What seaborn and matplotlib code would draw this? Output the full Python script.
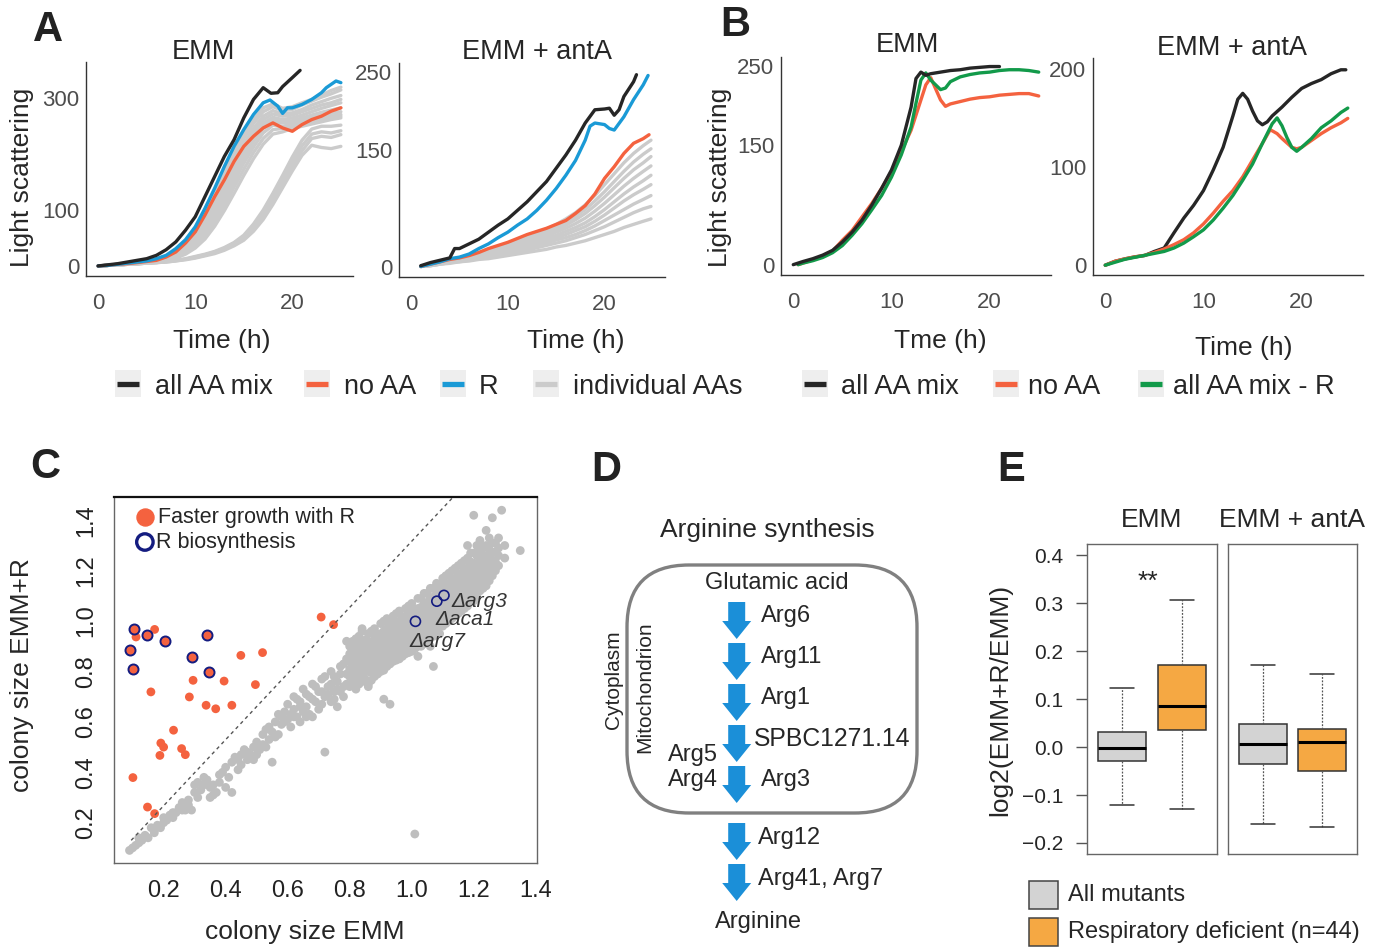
import numpy as np
import pandas as pd
import matplotlib
matplotlib.use('Agg')
import matplotlib.pyplot as plt
import seaborn as sns
from matplotlib.patches import FancyBboxPatch, FancyArrow, Rectangle

sns.set_style('white')
plt.rcParams['font.family'] = ['Liberation Sans', 'DejaVu Sans']
plt.rcParams['axes.unicode_minus'] = True

# ---------------- DATA ----------------
# Panel A, EMM
a1_black_t = [0,1,2,3,4,5,6,7,8,9,10,11,12,13,14,15,16,17,17.8,18.5,19,20,20.8]
a1_black_v = [0,2,4,7,10,13,19,29,43,64,88,124,160,196,226,265,298,319,309,310,321,337,350]
a1_blue_t = [0,1,2,3,4,5,6,7,8,9,10,11,12,13,14,15,16,17,17.7,18.5,19,19.5,20,21,22,23,23.5,24,24.5,25]
a1_blue_v = [0,1,3,5,7,9,13,19,31,47,70,103,139,178,214,244,271,292,297,286,273,283,283,289,298,310,319,325,331,328]
a1_red_t = list(range(0, 26))
a1_red_v = [0,1,3,4,6,8,10,16,25,41,61,91,124,154,187,214,232,247,256,247,241,253,262,268,277,283]
a1_gray_t = list(range(0, 26))
a1_gray = [
    [0,1,2,4,6,8,12,17,27,42,63,95,130,168,203,235,262,283,290,282,285,292,298,306,314,320],
    [0,1,2,4,6,8,11,16,25,39,58,88,122,160,196,228,255,276,285,278,280,288,295,302,308,315],
    [0,1,2,3,5,7,10,14,22,35,53,80,113,150,186,218,246,268,278,272,274,280,288,294,300,305],
    [0,1,2,3,5,7,10,14,21,33,50,76,108,144,180,212,240,262,272,268,270,276,282,288,292,298],
    [0,1,2,3,5,7,9,13,20,31,47,72,103,138,174,206,234,256,266,262,265,270,276,282,287,292],
    [0,1,2,3,4,6,9,13,19,29,44,68,98,132,168,200,228,250,262,258,260,265,270,275,279,283],
    [0,1,2,3,4,6,8,12,18,27,41,63,92,125,160,193,222,246,258,256,258,262,266,270,273,276],
    [0,1,2,3,4,6,8,11,16,25,38,58,85,117,151,184,213,238,252,250,254,258,262,265,268,271],
    [0,1,2,3,4,5,7,10,15,23,35,53,78,108,141,173,203,228,244,246,250,254,258,262,265,268],
    [0,1,2,3,4,5,7,10,14,21,32,48,71,99,130,162,192,218,236,240,246,250,254,258,262,265],
    [0,1,2,3,4,5,6,8,10,13,17,21,26,33,42,55,75,100,130,162,195,225,245,250,250,252],
    [0,1,2,3,4,5,6,8,10,12,16,20,25,31,40,52,70,94,123,155,187,215,236,240,238,242],
    [0,1,2,3,4,5,6,7,9,12,15,19,24,30,38,49,66,88,116,147,178,206,228,232,230,235],
    [0,1,2,3,4,5,6,7,9,11,14,18,22,28,36,46,62,83,110,140,170,198,216,212,210,214],
]
# Panel A, EMM + antA
a2_black_t = [1,2,3,4,4.5,5,6,7,8,9,10,11,12,13,14,15,16,17,18,19,20,20.5,21,21.5,22,23,23.3]
a2_black_v = [2,6,9,12,24,24,30,36,45,54,62,73,84,97,110,127,144,163,185,202,203,204,195,202,219,238,247]
a2_blue_t = [1,2,3,4,5,6,7,8,9,10,11,12,13,14,15,16,17,18,18.5,19,19.5,20,20.5,21,22,23,24,24.5]
a2_blue_v = [1,4,7,11,13,17,24,30,38,45,54,62,73,86,101,118,137,163,181,185,184,183,178,176,193,215,234,246]
a2_red_t = [1,2,3,4,5,6,7,8,9,10,11,12,13,14,15,16,17,18,19,20,21,22,23,24,24.6]
a2_red_v = [1,4,7,10,12,15,19,24,28,32,37,42,46,50,55,60,69,79,94,114,129,146,159,165,170]
a2_gray_t = [1,2,3,4,5,6,7,8,9,10,11,12,13,14,15,16,17,18,19,20,21,22,23,24,24.8]
a2_gray = [
    [1,3,6,9,11,14,17,21,25,29,34,39,44,49,55,62,70,80,92,106,120,134,146,156,163],
    [1,3,6,9,11,13,16,20,24,28,32,36,41,46,52,58,65,74,85,97,110,123,135,145,152],
    [1,3,5,8,10,12,15,18,22,26,30,34,38,43,48,54,61,69,79,90,102,114,125,134,142],
    [1,3,5,8,10,12,14,17,21,24,28,32,36,40,45,50,56,63,72,82,93,104,114,123,130],
    [1,3,5,7,9,11,13,16,19,22,26,29,33,37,41,46,51,57,65,74,84,94,103,111,118],
    [1,3,5,7,9,11,13,15,18,21,24,27,31,34,38,42,47,52,59,67,76,85,93,100,106],
    [1,2,4,6,8,10,12,14,17,19,22,25,28,31,35,38,42,47,53,60,67,74,81,87,92],
    [1,2,4,6,7,9,11,13,15,17,20,22,25,28,31,34,38,42,47,52,58,64,70,75,78],
    [1,2,4,5,7,8,10,11,13,15,17,19,21,23,26,28,31,34,38,42,46,51,55,59,62],
]
# Panel B, EMM
b1_black_t = [0,1,2,3,4,5,6,7,8,9,10,11,12,12.5,13,13.5,14,15,16,17,18,19,20,21]
b1_black_v = [0,4,7.5,12,18,28.5,41,56,75,96,119,150,198,234,242,238,240,242,244,245,247,248,249,249]
b1_red_t = [0.5,1,2,3,4,5,6,7,8,9,10,11,12,13,13.5,14,14.5,15,15.5,16,17,18,19,20,21,22,23,24,25]
b1_red_v = [0,2,6,11,17,30.6,43,60,77,96,117,142,169,207,226,235,221,207,199,202,205,208,210,211,213,214,215,215,212]
b1_green_t = [0.5,1,2,3,4,5,6,7,8,9,10,11,12,12.5,13,13.5,14,15,15.5,16,17,18,19,20,21,22,23,24,25]
b1_green_v = [0,2,5,9,15,24,37,51.6,69,87,110,138,173,203,232,241,232,220,222,230,236,239,241,242,244,245,245,244,242]
# Panel B, EMM + antA
b2_black_t = [0,1,2,3,4,5,6,7,8,9,10,11,12,13,13.5,14,14.5,15,15.5,16,16.5,17,18,19,20,21,22,23,24,24.5]
b2_black_v = [0,4,6.4,8.4,9.8,14,17.5,33,48,61,76,97,120,152,169,175,169,157,147,143,146,152,161,171,180,185,189,195,199,199]
b2_red_t = [0,1,2,3,4,5,6,7,8,9,10,11,12,13,14,15,16,16.8,17.5,18,19,19.5,20,21,22,23,24,24.7]
b2_red_v = [0,4,6.5,8.5,10,13,16.5,21,26,33,42,53,65,76,90,107,124,138,134,129,120,118.5,120,127,134,140,145,149.5]
b2_green_t = [0,1,2,3,4,5,6,7,8,9,10,11,12,13,14,15,16,17,17.5,18,18.5,19,19.5,20,21,22,23,24,24.7]
b2_green_v = [0,3,6,8,10,12,14,17.5,22.5,29,36,46,58,71,86.5,103,124,144,150,142,130,120,116,120,129,140,147,155.5,160]

# Panel C
gray_pairs = [
    (0.09,0.09),(0.10,0.10),(0.11,0.11),(0.12,0.14),(0.13,0.13),(0.14,0.15),(0.15,0.14),(0.16,0.18),
    (0.17,0.17),(0.18,0.19),(0.19,0.18),(0.20,0.20),(0.20,0.22),(0.21,0.21),(0.22,0.23),(0.23,0.24),
    (0.24,0.24),(0.25,0.26),(0.26,0.28),(0.27,0.25),(0.28,0.29),(0.28,0.27),(0.29,0.25),(0.30,0.32),
    (0.30,0.35),(0.31,0.36),(0.32,0.33),(0.33,0.38),(0.34,0.37),(0.35,0.30),(0.35,0.34),(0.36,0.31),
    (0.37,0.32),(0.38,0.36),(0.38,0.39),(0.39,0.40),(0.40,0.34),(0.40,0.42),(0.41,0.38),(0.42,0.44),
    (0.42,0.32),(0.43,0.46),(0.44,0.45),(0.45,0.47),(0.45,0.43),(0.46,0.49),(0.47,0.48),(0.48,0.47),
    (0.49,0.50),(0.49,0.45),(0.50,0.52),(0.51,0.49),(0.52,0.55),(0.53,0.57),(0.53,0.50),(0.54,0.58),
    (0.55,0.44),(0.55,0.56),(0.56,0.60),(0.57,0.55),(0.57,0.63),(0.58,0.59),(0.59,0.64),(0.60,0.61),
    (0.60,0.67),(0.61,0.58),(0.62,0.65),(0.62,0.70),(0.63,0.62),(0.64,0.68),(0.65,0.64),(0.65,0.73),
    (0.66,0.66),(0.67,0.70),(0.68,0.62),(0.68,0.75),(0.69,0.68),(0.70,0.72),(0.70,0.65),(0.71,0.77),
    (0.72,0.48),(0.72,0.70),(0.73,0.74),(0.74,0.68),(0.74,0.80),(0.75,0.72),(0.76,0.76),(0.76,0.66),
    (0.77,0.82),(0.78,0.74),(0.78,0.70),(0.79,0.79),(1.01,0.155),(0.91,0.69),(0.93,0.67),(1.07,0.82),
    (1.35,1.28),(1.29,1.44),(1.26,1.41),(1.20,1.42),(0.86,0.74),(0.79,0.92),(0.84,0.97),
    (0.61,0.63),(0.63,0.69),(0.64,0.60),(0.66,0.71),(0.67,0.63),(0.69,0.74),(0.71,0.67),(0.72,0.78),
    (0.73,0.71),(0.75,0.78),(0.75,0.69),(0.77,0.72),(0.77,0.79),(0.79,0.75),(0.79,0.85),(0.78,0.83),
    (0.76,0.73),(0.74,0.75),(0.71,0.72),(0.68,0.69),(0.66,0.62),(0.64,0.66),(0.62,0.62),(0.59,0.60),
    (0.58,0.62),(0.56,0.54),(0.54,0.53),(0.52,0.51),(0.50,0.47),(0.47,0.45),(0.44,0.41),(0.36,0.35),
    (0.33,0.35),(0.31,0.30),(0.26,0.25),(0.23,0.22),(0.17,0.16),(0.12,0.12),
]
gray_rows = [
    (0.80,[0.74,0.78,0.81,0.84,0.87,0.90]),
    (0.81,[0.76,0.79,0.82,0.85,0.88,0.92]),
    (0.82,[0.73,0.77,0.80,0.83,0.86,0.89,0.93]),
    (0.83,[0.75,0.78,0.81,0.845,0.875,0.905,0.94]),
    (0.84,[0.76,0.79,0.82,0.85,0.88,0.91,0.96]),
    (0.85,[0.77,0.805,0.835,0.865,0.895,0.925]),
    (0.86,[0.75,0.80,0.83,0.86,0.89,0.92,0.95]),
    (0.87,[0.765,0.795,0.825,0.855,0.885,0.915,0.96]),
    (0.88,[0.78,0.81,0.84,0.87,0.90,0.93,0.97]),
    (0.89,[0.79,0.825,0.855,0.885,0.915,0.945]),
    (0.90,[0.80,0.83,0.86,0.89,0.92,0.95,0.99]),
    (0.91,[0.805,0.835,0.865,0.895,0.925,0.96,1.00]),
    (0.92,[0.82,0.85,0.88,0.91,0.94,0.97,1.01]),
    (0.93,[0.83,0.865,0.895,0.925,0.955,0.985]),
    (0.94,[0.84,0.87,0.90,0.93,0.96,0.99,1.02]),
    (0.95,[0.845,0.875,0.905,0.935,0.965,0.995,1.03]),
    (0.96,[0.85,0.88,0.91,0.94,0.97,1.00,1.04]),
    (0.97,[0.86,0.895,0.925,0.955,0.985,1.015]),
    (0.98,[0.87,0.90,0.93,0.96,0.99,1.02,1.05]),
    (0.99,[0.875,0.905,0.935,0.965,0.995,1.025,1.06]),
    (1.00,[0.88,0.91,0.94,0.97,1.00,1.03,1.07]),
    (1.01,[0.89,0.925,0.955,0.985,1.015,1.045]),
    (1.02,[0.86,0.90,0.93,0.96,0.99,1.02,1.05,1.09]),
    (1.03,[0.90,0.935,0.965,0.995,1.025,1.055,1.09]),
    (1.04,[0.91,0.95,0.98,1.01,1.04,1.07,1.11]),
    (1.05,[0.92,0.955,0.985,1.015,1.045,1.075,1.11]),
    (1.06,[0.90,0.94,0.97,1.00,1.03,1.06,1.09,1.13]),
    (1.07,[0.94,0.975,1.005,1.035,1.065,1.095,1.13]),
    (1.08,[0.96,0.99,1.02,1.05,1.08,1.11,1.15]),
    (1.09,[0.95,0.985,1.015,1.045,1.075,1.105,1.14]),
    (1.10,[0.98,1.01,1.04,1.07,1.10,1.13,1.17]),
    (1.11,[0.99,1.025,1.055,1.085,1.115,1.145,1.18]),
    (1.12,[1.00,1.03,1.06,1.09,1.12,1.15,1.19]),
    (1.13,[1.01,1.045,1.075,1.105,1.135,1.165,1.20]),
    (1.14,[1.02,1.05,1.08,1.11,1.14,1.17,1.21]),
    (1.15,[1.03,1.065,1.095,1.125,1.155,1.185,1.22]),
    (1.16,[1.04,1.07,1.10,1.13,1.16,1.19,1.23]),
    (1.17,[1.05,1.085,1.115,1.145,1.175,1.205,1.24]),
    (1.18,[1.06,1.09,1.12,1.15,1.18,1.21,1.25,1.30]),
    (1.19,[1.08,1.115,1.145,1.175,1.205,1.235,1.27]),
    (1.20,[1.08,1.11,1.14,1.17,1.20,1.23,1.27]),
    (1.21,[1.10,1.135,1.165,1.195,1.225,1.26,1.30]),
    (1.22,[1.12,1.15,1.18,1.21,1.24,1.28,1.32]),
    (1.23,[1.13,1.165,1.195,1.225,1.255,1.29]),
    (1.24,[1.14,1.17,1.20,1.23,1.26,1.30,1.36]),
    (1.25,[1.16,1.195,1.225,1.255,1.285,1.33]),
    (1.26,[1.18,1.21,1.24,1.27,1.31]),
    (1.27,[1.20,1.235,1.275,1.31]),
    (1.28,[1.22,1.26,1.29,1.33]),
    (1.30,[1.25,1.30]),
]
red_x = [0.111,0.171,0.159,0.101,0.148,0.171,0.188,0.191,0.200,0.232,0.258,0.270,0.283,0.295,
         0.337,0.368,0.395,0.420,0.449,0.496,0.519,0.708,0.748]
red_y = [0.937,0.967,0.719,0.379,0.262,0.236,0.467,0.516,0.500,0.567,0.494,0.470,0.699,0.765,
         0.666,0.652,0.762,0.666,0.864,0.748,0.875,1.016,0.986]
rbio_red_x = [0.104,0.092,0.101,0.146,0.203,0.290,0.341,0.345]
rbio_red_y = [0.967,0.884,0.809,0.944,0.920,0.858,0.946,0.798]
rbio_open_x = [1.012,1.081,1.104]
rbio_open_y = [0.999,1.079,1.102]
gene_labels = ['Δarg3', 'Δaca1', 'Δarg7']
gene_label_x = [1.127, 1.078, 0.994]
gene_label_y = [1.076, 1.006, 0.920]
diag_x = [0.0955, 1.132]
diag_y = [0.13, 1.49]

# Panel D
inner_steps = ['Arg6', 'Arg11', 'Arg1', 'SPBC1271.14', 'Arg3']
outer_steps = ['Arg12', 'Arg41, Arg7']
side_steps = ['Arg5', 'Arg4']

# Panel E
e_panels = ['EMM', 'EMM + antA']
e_groups = ['All mutants', 'Respiratory deficient (n=44)']
e_whislo = [[-0.1215, -0.129], [-0.1604, -0.1674]]
e_q1 = [[-0.0297, 0.0364], [-0.035, -0.0505]]
e_med = [[-0.002, 0.085], [0.0072, 0.0113]]
e_q3 = [[0.0315, 0.172], [0.048, 0.037]]
e_whishi = [[0.123, 0.3075], [0.172, 0.1525]]

# ---------------- STYLE ----------------
C_BLACK = '#262626'; C_RED = '#F4623F'; C_BLUE = '#1A9AD6'; C_GREEN = '#129A4A'
C_GRAY = '#CBCBCB'; C_ARROW = '#1B8FD8'; C_NAVY = '#141C80'
C_EGRAY = '#D3D3D3'; C_EORANGE = '#F5A843'

W, H = 1380, 948
fig = plt.figure(figsize=(W/100, H/100), dpi=100)

def add_ax(l, t, r, b):
    return fig.add_axes([l/W, 1-b/H, (r-l)/W, (b-t)/H])

def style_growth(ax, ylim, yticks):
    ax.set_xlim(-1.25, 26.25)
    ax.set_ylim(*ylim)
    ax.set_xticks([0, 10, 20])
    ax.set_yticks(yticks)
    for s in ['top', 'right']:
        ax.spines[s].set_visible(False)
    for s in ['left', 'bottom']:
        ax.spines[s].set_color('#333333')
        ax.spines[s].set_linewidth(1.0)
    ax.tick_params(axis='both', length=3.5, width=1, color='#333333', labelsize=16,
                   labelcolor='#4D4D4D', direction='out')
    ax.tick_params(axis='x', pad=9)
    ax.tick_params(axis='y', pad=1.5)
    ax.set_xlabel(''); ax.set_ylabel('')
    ax.set_facecolor('none')
    ax.grid(False)

def line(ax, t, v, color, lw=2.4):
    sns.lineplot(x=t, y=v, ax=ax, color=color, linewidth=lw, estimator=None, sort=False)

# Panel A
axA1 = add_ax(86, 62, 353, 276)
for g in a1_gray:
    line(axA1, a1_gray_t, g, C_GRAY, 2.4)
line(axA1, a1_red_t, a1_red_v, C_RED)
line(axA1, a1_blue_t, a1_blue_v, C_BLUE)
line(axA1, a1_black_t, a1_black_v, C_BLACK)
style_growth(axA1, (-18, 365), [0, 100, 300])

axA2 = add_ax(399, 63, 665, 277)
for g in a2_gray:
    line(axA2, a2_gray_t, g, C_GRAY, 2.4)
line(axA2, a2_red_t, a2_red_v, C_RED)
line(axA2, a2_blue_t, a2_blue_v, C_BLUE)
line(axA2, a2_black_t, a2_black_v, C_BLACK)
style_growth(axA2, (-12.5, 262), [0, 150, 250])

# Panel B
axB1 = add_ax(781, 57, 1051, 275)
line(axB1, b1_red_t, b1_red_v, C_RED)
line(axB1, b1_green_t, b1_green_v, C_GREEN)
line(axB1, b1_black_t, b1_black_v, C_BLACK)
style_growth(axB1, (-13, 261), [0, 150, 250])

axB2 = add_ax(1093, 58, 1363, 275)
line(axB2, b2_black_t, b2_black_v, C_BLACK)
line(axB2, b2_red_t, b2_red_v, C_RED)
line(axB2, b2_green_t, b2_green_v, C_GREEN)
style_growth(axB2, (-10, 211), [0, 100, 200])

# Panel C
gx = [p[0] for p in gray_pairs]
gy = [p[1] for p in gray_pairs]
for xr, ys in gray_rows:
    for yv in ys:
        gx.append(xr); gy.append(yv)
axC = add_ax(114, 497, 537, 863)
sns.scatterplot(x=gx, y=gy, ax=axC, color='#BEBEBE', s=40, edgecolor='none', linewidth=0)
axC.plot(diag_x, diag_y, color='#555555', lw=1, ls=(0, (2.5, 2.5)))
sns.scatterplot(x=red_x, y=red_y, ax=axC, color=C_RED, s=40, edgecolor='none', linewidth=0)
sns.scatterplot(x=rbio_red_x, y=rbio_red_y, ax=axC, color=C_RED, s=52, edgecolor=C_NAVY, linewidth=1.4)
sns.scatterplot(x=rbio_open_x, y=rbio_open_y, ax=axC, facecolor='none', s=52, edgecolor=C_NAVY, linewidth=1.2)
for lab, lx, ly in zip(gene_labels, gene_label_x, gene_label_y):
    axC.text(lx, ly, lab, fontsize=15, style='italic', color='#333333', ha='left', va='center')
axC.set_xlim(0.04, 1.404)
axC.set_ylim(0.04, 1.4925)
ticks = [0.2, 0.4, 0.6, 0.8, 1.0, 1.2, 1.4]
tlabels = ['0.2', '0.4', '0.6', '0.8', '1.0', '1.2', '1.4']
axC.set_xticks(ticks); axC.set_xticklabels(tlabels)
axC.set_yticks(ticks); axC.set_yticklabels(tlabels, rotation=90, va='center')
axC.tick_params(length=6, width=1, color='#555555', labelsize=17, labelcolor='#222222', direction='out')
axC.tick_params(axis='x', pad=6)
axC.tick_params(axis='y', pad=6)
for s in ['left', 'right', 'bottom']:
    axC.spines[s].set_color('#666666'); axC.spines[s].set_linewidth(1)
axC.spines['top'].set_color('#111111'); axC.spines['top'].set_linewidth(1.6)
axC.set_xlabel(''); axC.set_ylabel('')
axC.grid(False)
axC.scatter([0.073], [0.945], transform=axC.transAxes, s=150, color=C_RED, clip_on=False)
axC.scatter([0.073], [0.877], transform=axC.transAxes, s=140, facecolor='none',
            edgecolor=C_NAVY, linewidth=2.4, clip_on=False)
axC.text(0.103, 0.945, 'Faster growth with R', transform=axC.transAxes, fontsize=15.5, va='center')
axC.text(0.100, 0.877, 'R biosynthesis', transform=axC.transAxes, fontsize=15.5, va='center')

# Panel E
eaxes = [add_ax(1087, 544, 1217, 854), add_ax(1228, 544, 1357, 854)]
for k, ax in enumerate(eaxes):
    stats = []
    for j in range(2):
        stats.append(dict(med=e_med[k][j], q1=e_q1[k][j], q3=e_q3[k][j],
                          whislo=e_whislo[k][j], whishi=e_whishi[k][j], label=e_groups[j]))
    bp = ax.bxp(stats, positions=[1, 2], widths=0.8, patch_artist=True, showfliers=False,
                capwidths=0.4,
                boxprops=dict(edgecolor='#333333', linewidth=1.1),
                whiskerprops=dict(color='#555555', linewidth=0.9, linestyle=(0, (1.5, 1.2))),
                capprops=dict(color='#333333', linewidth=1.1),
                medianprops=dict(color='#000000', linewidth=2.2))
    for patch, col in zip(bp['boxes'], [C_EGRAY, C_EORANGE]):
        patch.set_facecolor(col)
    ax.set_xlim(0.42, 2.58)
    ax.set_ylim(-0.223, 0.424)
    ax.set_xticks([])
    for s in ax.spines.values():
        s.set_visible(True); s.set_color('#666666'); s.set_linewidth(1)
    ax.set_facecolor('white')
    ax.grid(False)
    if k == 0:
        ax.set_yticks([-0.2, -0.1, 0.0, 0.1, 0.2, 0.3, 0.4])
        ax.set_yticklabels(['\u22120.2', '\u22120.1', '0.0', '0.1', '0.2', '0.3', '0.4'])
        ax.tick_params(axis='y', length=8, width=1, color='#555555', labelsize=15, pad=9,
                       direction='out', left=True)
    else:
        ax.set_yticks([])

# ---------------- OVERLAY (text, legends, diagram) ----------------
ov = fig.add_axes([0, 0, 1, 1])
ov.set_xlim(0, W); ov.set_ylim(H, 0); ov.axis('off')
ov.patch.set_alpha(0)

def T(x, y, s, size, **kw):
    kw.setdefault('ha', 'center'); kw.setdefault('va', 'center')
    ov.text(x, y, s, fontsize=size, **kw)

# panel letters
for lab, x, y in [('A', 48, 30), ('B', 735, 25), ('C', 45, 467), ('D', 606, 470), ('E', 1011, 470)]:
    T(x, y, lab, 30, fontweight='bold', color='#222222')

# A/B titles and axis titles
T(203, 52, 'EMM', 19.5); T(537, 52, 'EMM + antA', 19.5)
T(907, 45, 'EMM', 19.5); T(1232, 48, 'EMM + antA', 19.5)
T(22, 177, 'Light scattering', 19, rotation=90)
T(720, 177, 'Light scattering', 19, rotation=90)
T(222, 341, 'Time (h)', 19); T(576, 341, 'Time (h)', 19)
T(940, 341, 'Tme (h)', 19); T(1244, 348, 'Time (h)', 19)

# legends A/B
def key(x0, col, label, tx):
    ov.add_patch(Rectangle((x0, 370), 26, 27, facecolor='#EEEEEE', edgecolor='none'))
    ov.plot([x0 + 2, x0 + 24], [383.5, 383.5], color=col, lw=3.8, solid_capstyle='butt')
    T(tx, 387, label, 19.5, ha='left')
key(115, C_BLACK, 'all AA mix', 155)
key(304, C_RED, 'no AA', 344)
key(440, C_BLUE, 'R', 479)
key(533, C_GRAY, 'individual AAs', 573)
key(802, C_BLACK, 'all AA mix', 841)
key(993, C_RED, 'no AA', 1028)
key(1138, C_GREEN, 'all AA mix - R', 1173)

# C axis titles
T(305, 932, 'colony size EMM', 19)
T(22, 675, 'colony size EMM+R', 19, rotation=90)

# Panel D diagram
T(767, 530, 'Arginine synthesis', 19)
ov.add_patch(FancyBboxPatch((627, 565), 290, 248, boxstyle='round,pad=0,rounding_size=62',
                            facecolor='none', edgecolor='#808080', linewidth=2.4))
T(777, 583, 'Glutamic acid', 17)
ax_x = 736.7
for i, lab in enumerate(inner_steps):
    top = 602 + 41 * i
    ov.add_patch(FancyArrow(ax_x, top, 0, 37, width=17, head_width=29, head_length=18,
                            length_includes_head=True, color=C_ARROW, lw=0))
    if lab.startswith('SPBC'):
        T(754, top + 14, lab, 17.8, ha='left')
    else:
        T(761, top + 14, lab, 17, ha='left')
for i, lab in enumerate(outer_steps):
    top = 823 + 41 * i
    ov.add_patch(FancyArrow(ax_x, top, 0, 37, width=17, head_width=29, head_length=18,
                            length_includes_head=True, color=C_ARROW, lw=0))
    T(758, top + 15, lab, 17, ha='left')
T(718, 755, side_steps[0], 17, ha='right')
T(718, 780, side_steps[1], 17, ha='right')
T(758, 922, 'Arginine', 17)
T(613, 680, 'Cytoplasm', 15, rotation=90)
T(645, 687, 'Mitochondrion', 15, rotation=90)

# Panel E texts
T(1152, 520, e_panels[0], 19); T(1292, 520, e_panels[1], 19)
T(1000, 700, 'log2(EMM+R/EMM)', 19, rotation=90)
T(1148, 582, '**', 19)
ov.add_patch(Rectangle((1029, 881), 29, 28, facecolor=C_EGRAY, edgecolor='#444444', lw=1.1))
ov.add_patch(Rectangle((1029, 918), 29, 28, facecolor=C_EORANGE, edgecolor='#444444', lw=1.1))
T(1068, 895, e_groups[0], 17, ha='left')
T(1068, 932, e_groups[1], 17, ha='left')

fig.savefig('out.png', dpi=100)
